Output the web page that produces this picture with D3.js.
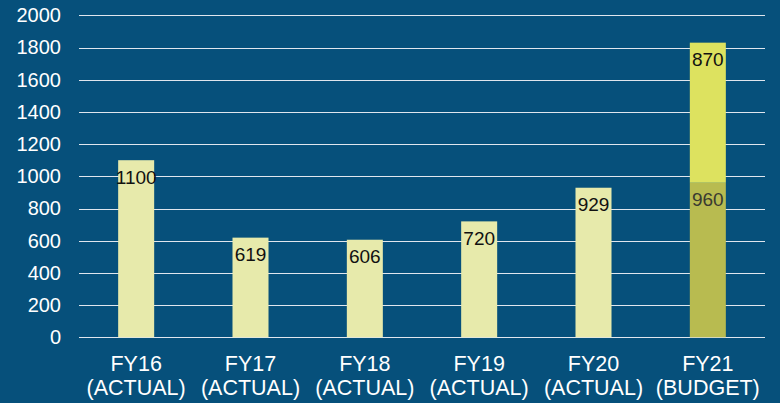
<!DOCTYPE html>
<html>
<head>
<meta charset="utf-8">
<script src="https://cdn.jsdelivr.net/npm/d3@7"></script>
<style>
  html, body { margin: 0; padding: 0; background: #06507b; }
  svg { display: block; font-family: "Liberation Sans", Arial, sans-serif; }
</style>
</head>
<body>
<svg width="780" height="403"></svg>
<script>
// Data
const years = ["FY16", "FY17", "FY18", "FY19", "FY20", "FY21"];
const kinds = ["(ACTUAL)", "(ACTUAL)", "(ACTUAL)", "(ACTUAL)", "(ACTUAL)", "(BUDGET)"];
const baseValues = [1100, 619, 606, 720, 929, 960];
const extraValues = [0, 0, 0, 0, 0, 870];
const yTicks = [0, 200, 400, 600, 800, 1000, 1200, 1400, 1600, 1800, 2000];

const svg = d3.select("svg");
const plotLeft = 79, plotRight = 765, plotTop = 15.3, plotBottom = 337.3;

const x = d3.scaleBand().domain(years).range([plotLeft, plotRight]).paddingInner(0.685).paddingOuter(0.3425);
const y = d3.scaleLinear().domain([0, 2000]).range([plotBottom, plotTop]);

// gridlines
svg.append("g")
    .selectAll("line")
    .data(yTicks)
    .join("line")
    .attr("x1", plotLeft)
    .attr("x2", plotRight)
    .attr("y1", d => Math.round(y(d)) + 0.5)
    .attr("y2", d => Math.round(y(d)) + 0.5)
    .attr("stroke", "#dfe6ee")
    .attr("stroke-width", 1);

// y axis labels
const yAxis = svg.append("g")
    .attr("transform", `translate(${plotLeft},0)`)
    .call(d3.axisLeft(y).tickValues(yTicks).tickFormat(d3.format("d")).tickSize(0).tickPadding(18));
yAxis.select(".domain").remove();
yAxis.selectAll("text")
    .attr("fill", "#ffffff")
    .style("font-size", "20px")
    .style("font-family", "'Liberation Sans', Arial, sans-serif");

const rows = years.map((d, i) => ({ year: d, base: baseValues[i], extra: extraValues[i], i }));

// base bars
svg.append("g")
    .selectAll("rect")
    .data(rows)
    .join("rect")
    .attr("x", d => x(d.year))
    .attr("width", x.bandwidth())
    .attr("y", d => y(d.base))
    .attr("height", d => y(0) - y(d.base))
    .attr("fill", d => d.extra > 0 ? "#b8bb50" : "#e7eaab");

// stacked top segment
svg.append("g")
    .selectAll("rect")
    .data(rows.filter(d => d.extra > 0))
    .join("rect")
    .attr("x", d => x(d.year))
    .attr("width", x.bandwidth())
    .attr("y", d => y(d.base + d.extra))
    .attr("height", d => y(d.base) - y(d.base + d.extra))
    .attr("fill", "#dde25f");

// value labels
const labels = [];
rows.forEach(d => {
    labels.push({ year: d.year, v: d.base, end: d.base, color: d.extra > 0 ? "#3a3a30" : "#111111" });
    if (d.extra > 0) labels.push({ year: d.year, v: d.extra, end: d.base + d.extra, color: "#111111" });
});
svg.append("g")
    .selectAll("text")
    .data(labels)
    .join("text")
    .attr("x", d => x(d.year) + x.bandwidth() / 2)
    .attr("y", d => y(d.end) + 23.5)
    .attr("text-anchor", "middle")
    .attr("fill", d => d.color)
    .style("font-size", "19px")
    .text(d => d.v);

// x labels
const xl = svg.append("g")
    .selectAll("text")
    .data(rows)
    .join("text")
    .attr("text-anchor", "middle")
    .attr("fill", "#ffffff")
    .style("font-size", "21.5px");
xl.append("tspan")
    .attr("x", d => x(d.year) + x.bandwidth() / 2)
    .attr("y", 371)
    .text(d => d.year);
xl.append("tspan")
    .attr("x", d => x(d.year) + x.bandwidth() / 2)
    .attr("y", 395)
    .text(d => kinds[d.i]);
</script>
</body>
</html>
